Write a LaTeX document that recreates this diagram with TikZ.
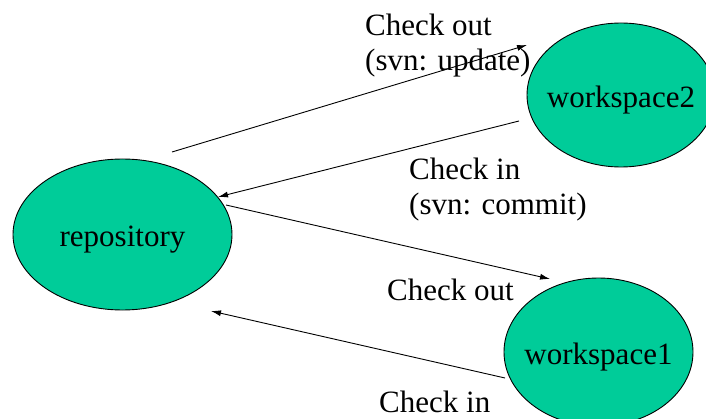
\documentclass[tikz,border=0pt]{standalone}
\usepackage{fontspec}
\setmainfont{Liberation Serif}
\usepackage{tikz}
\usetikzlibrary{shapes,arrows.meta,positioning,calc}
\definecolor{svngreen}{HTML}{00CC99}

\begin{document}
\begin{tikzpicture}[
    x=1pt, y=1pt,
    every node/.style={font=\fontsize{31}{35.5}\selectfont},
    place/.style={ellipse, draw=black, line width=0.9pt, fill=svngreen, inner sep=0pt},
    tag/.style={anchor=base west, inner sep=0pt, align=left},
    arrow/.style={line width=0.9pt, -{Latex[length=10pt,width=6pt]}}
]
\useasboundingbox (0,0) rectangle (706,418);

\node[place, minimum width=219pt, minimum height=151pt,
      label={[yshift=-5pt]center:repository}] (repo) at (122.5,183.5) {};
\node[place, minimum width=188pt, minimum height=144pt,
      label={[yshift=-5pt]center:workspace2}] (ws2) at (621,323) {};
\node[place, minimum width=189pt, minimum height=148pt,
      label={[yshift=-5pt]center:workspace1}] (ws1) at (598.5,66) {};

% two-line tags sit on the baseline of their last line
\node[tag] (out2) at (365,347) {Check out\\(svn: update)};
\node[tag] (in2) at (409,203) {Check in\\(svn: commit)};
\node[tag] (out1) at (387,118) {Check out};
\node[tag] (in1) at (379,6) {Check in};

\draw[arrow] ($(repo)+(49.5,82.5)$) -- ($(ws2)+(-94,50)$);
\draw[arrow] ($(ws2)+(-102,-26)$) -- ($(repo)+(95.5,37.5)$);
\draw[arrow] ($(repo)+(103.5,29.5)$) -- ($(ws1)+(-48.5,73)$);
\draw[arrow] ($(ws1)+(-93.5,-26)$) -- ($(repo)+(88.5,-76.5)$);
\end{tikzpicture}
\end{document}
